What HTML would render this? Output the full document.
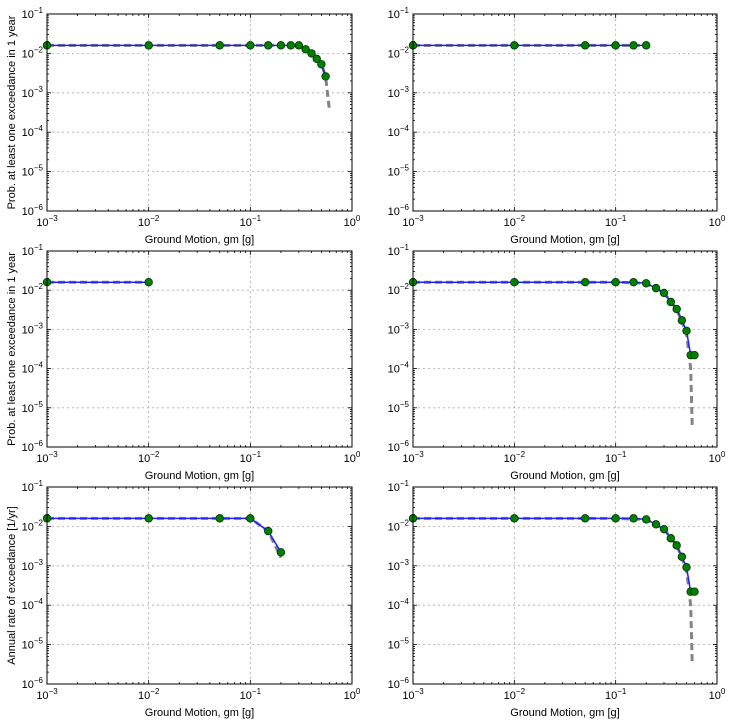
<!DOCTYPE html>
<html><head><meta charset="utf-8"><style>
body{margin:0;background:#fff;}
svg{display:block;font-family:"Liberation Sans",sans-serif;}
</style></head><body>
<svg id="fig" width="733" height="725" viewBox="0 0 733 725"></svg>
<script>
// data
const xAll = [0.001,0.01,0.05,0.1,0.15,0.2,0.25,0.3,0.35,0.4,0.45,0.5,0.55,0.6];
const p1x = [0.001,0.01,0.05,0.1,0.15,0.2,0.25,0.3,0.35,0.4,0.45,0.5,0.55];
const p1y = [0.016,0.016,0.016,0.016,0.016,0.016,0.016,0.016,0.0127,0.010,0.0073,0.0053,0.0026];
const p1gx = [0.001,0.01,0.05,0.1,0.2,0.3,0.4,0.5,0.55,0.6];
const p1gy = [0.016,0.016,0.016,0.016,0.016,0.0155,0.0105,0.0055,0.0026,0.00036];
const p2x = [0.001,0.01,0.05,0.1,0.15,0.2];
const p2y = [0.016,0.016,0.016,0.016,0.016,0.016];
const p3x = [0.001,0.01];
const p3y = [0.016,0.016];
const p4x = [0.001,0.01,0.05,0.1,0.15,0.2,0.25,0.3,0.35,0.4,0.45,0.5,0.55,0.6];
const p4y = [0.016,0.016,0.016,0.016,0.016,0.015,0.0113,0.0085,0.005,0.0033,0.0017,0.00092,0.00022,0.00022];
const p4gx = [0.001,0.01,0.1,0.2,0.3,0.4,0.5,0.55,0.57];
const p4gy = [0.016,0.016,0.016,0.015,0.0085,0.0033,0.0008,0.0001,0.000003];
const p5x = [0.001,0.01,0.05,0.1,0.15,0.2];
const p5y = [0.016,0.016,0.016,0.016,0.0076,0.0022];
const p5gx = [0.001,0.01,0.1,0.15,0.2];
const p5gy = [0.016,0.016,0.016,0.0076,0.0016];
const xTicks = [-3,-2,-1,0];
const yTicks = [-6,-5,-4,-3,-2,-1];
const ylab1 = "Prob. at least one exceedance in 1 year";
const ylab3 = "Annual rate of exceedance [1/yr]";

const NS="http://www.w3.org/2000/svg";
const svg=document.getElementById('fig');
function el(tag,attrs,parent){const e=document.createElementNS(NS,tag);for(const k in attrs)e.setAttribute(k,attrs[k]);(parent||svg).appendChild(e);return e;}

const panels=[
 {x0:47,x1:352,y0:14,y1:211,px:p1x,py:p1y,gx:p1gx,gy:p1gy,yl:ylab1},
 {x0:413,x1:717,y0:14,y1:211,px:p2x,py:p2y,gx:p2x,gy:p2y,yl:null},
 {x0:47,x1:352,y0:251,y1:447,px:p3x,py:p3y,gx:p3x,gy:p3y,yl:ylab1},
 {x0:413,x1:717,y0:251,y1:447,px:p4x,py:p4y,gx:p4gx,gy:p4gy,yl:null},
 {x0:47,x1:352,y0:487,y1:684,px:p5x,py:p5y,gx:p5gx,gy:p5gy,yl:ylab3},
 {x0:413,x1:717,y0:487,y1:684,px:p4x,py:p4y,gx:p4gx,gy:p4gy,yl:null}
];

function sup(parent,x,y,exp,anchor){
  const t=el('text',{x:x,y:y,'font-size':11,'text-anchor':anchor,fill:'#000'},parent);
  
  
  const a=el('tspan',{},t);a.textContent='10';
  const b=el('tspan',{dy:-5,'font-size':8},t);b.textContent=String(exp).replace('-','\u2212');
  return t;
}

panels.forEach((p,i)=>{
  const g=el('g',{});
  
  
  const sx=v=>p.x0+(Math.log10(v)+3)/3*(p.x1-p.x0);
  const sy=v=>p.y1-(Math.log10(v)+6)/5*(p.y1-p.y0);
  // grid
  xTicks.forEach(t=>{const X=sx(Math.pow(10,t));el('line',{x1:X,x2:X,y1:p.y0,y2:p.y1,stroke:'#aaa','stroke-dasharray':'2,3','stroke-width':0.8},g);});
  yTicks.forEach(t=>{const Y=sy(Math.pow(10,t));el('line',{x1:p.x0,x2:p.x1,y1:Y,y2:Y,stroke:'#aaa','stroke-dasharray':'2,3','stroke-width':0.8},g);});
  // ticks major/minor
  for(let d=-3;d<0;d++)for(let m=1;m<10;m++){const X=sx(m*Math.pow(10,d));const L=m==1?4:2;
    el('line',{x1:X,x2:X,y1:p.y1,y2:p.y1-L,stroke:'#000','stroke-width':0.8},g);el('line',{x1:X,x2:X,y1:p.y0,y2:p.y0+L,stroke:'#000','stroke-width':0.8},g);}
  for(let d=-6;d<-1;d++)for(let m=1;m<10;m++){const Y=sy(m*Math.pow(10,d));const L=m==1?4:2;
    el('line',{x1:p.x0,x2:p.x0+L,y1:Y,y2:Y,stroke:'#000','stroke-width':0.8},g);el('line',{x1:p.x1,x2:p.x1-L,y1:Y,y2:Y,stroke:'#000','stroke-width':0.8},g);}
  // gray dashed
  const gl=el('polyline',{points:p.gx.map((v,k)=>sx(v)+','+sy(p.gy[k])).join(' '),fill:'none',stroke:'#777','stroke-width':3,'stroke-dasharray':'7,4',opacity:0.9},g);
  
  
  const bl=el('polyline',{points:p.px.map((v,k)=>sx(v)+','+sy(p.py[k])).join(' '),fill:'none',stroke:'#2020ff','stroke-width':1.5},g);
  
  
  p.px.forEach((v,k)=>{const c=el('circle',{cx:sx(v),cy:sy(p.py[k]),r:3.8,fill:'#008000',stroke:'#003300','stroke-width':0.8},g);
    
    });
  // frame
  const fr=el('rect',{x:p.x0,y:p.y0,width:p.x1-p.x0,height:p.y1-p.y0,fill:'none',stroke:'#000','stroke-width':1},g);
  
  
  // tick labels
  xTicks.forEach(t=>sup(g,sx(Math.pow(10,t)),p.y1+15,t,'middle'));
  yTicks.forEach(t=>sup(g,p.x0-4,sy(Math.pow(10,t))+4,t,'end'));
  const xl=el('text',{x:(p.x0+p.x1)/2,y:p.y1+32,'font-size':11,'text-anchor':'middle'},g);
  xl.textContent='Ground Motion, gm [g]';
  
  
  if(p.yl){const cy=(p.y0+p.y1)/2;const yt=el('text',{x:15,y:cy,'font-size':11,'text-anchor':'middle',transform:'rotate(-90 15 '+cy+')'},g);
    yt.textContent=p.yl;
    
    }
});
</script>
</body></html>
